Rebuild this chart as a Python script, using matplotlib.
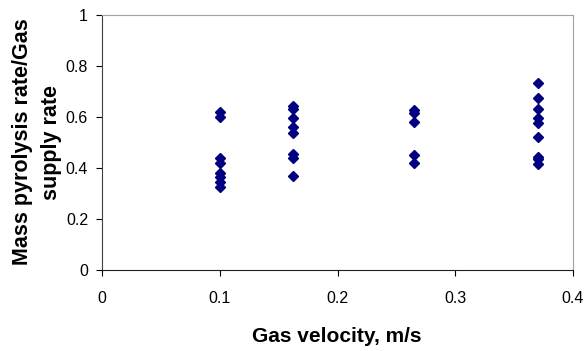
import matplotlib
matplotlib.use("Agg")
import matplotlib.pyplot as plt

plt.rcParams['font.family'] = ['Liberation Sans', 'DejaVu Sans']

# Gas velocity (m/s) for each measurement
vitesse = [0.1] * 8 + [0.1625] * 8 + [0.265] * 5 + [0.37] * 9
# Mass pyrolysis rate / gas supply rate
rapport = [0.621, 0.601, 0.438, 0.418, 0.379, 0.364, 0.346, 0.327,
           0.643, 0.630, 0.597, 0.562, 0.536, 0.455, 0.438, 0.369,
           0.627, 0.617, 0.580, 0.450, 0.418,
           0.735, 0.675, 0.630, 0.595, 0.577, 0.520, 0.444, 0.435, 0.414]

x_ticks = [0, 0.1, 0.2, 0.3, 0.4]
y_ticks = [0, 0.2, 0.4, 0.6, 0.8, 1]

fig = plt.figure(figsize=(5.87, 3.51), dpi=100)
ax = fig.add_axes([102 / 587, 1 - 270 / 351, 471 / 587, 255 / 351])

ax.plot(vitesse, rapport, linestyle='none', marker='D', markersize=4.8,
        color='#000080', markeredgecolor='#000080')

ax.set_xlim(0, 0.4)
ax.set_ylim(0, 1)
ax.set_xticks(x_ticks)
ax.set_xticklabels(['0', '0.1', '0.2', '0.3', '0.4'])
ax.set_yticks(y_ticks)
ax.set_yticklabels(['0', '0.2', '0.4', '0.6', '0.8', '1'])

for side in ['top', 'right']:
    ax.spines[side].set_color('#a0a0a0')
ax.spines['left'].set_color('#404040')
ax.spines['bottom'].set_color('#202020')
ax.tick_params(direction='out', length=4, labelsize=11.5, pad=6, color='black')
ax.tick_params(axis='x', pad=11)

# axis titles placed like the Excel original
fig.text(337 / 587, 1 - 336 / 351, 'Gas velocity, m/s', fontsize=15,
         fontweight='bold', ha='center', va='center')
fig.text(37 / 587, 1 - 142 / 351, 'Mass pyrolysis rate/Gas\nsupply rate',
         fontsize=15.5, fontweight='bold', ha='center', va='center',
         rotation=90, linespacing=1.55, multialignment='center')

fig.savefig('out.png', dpi=100)
